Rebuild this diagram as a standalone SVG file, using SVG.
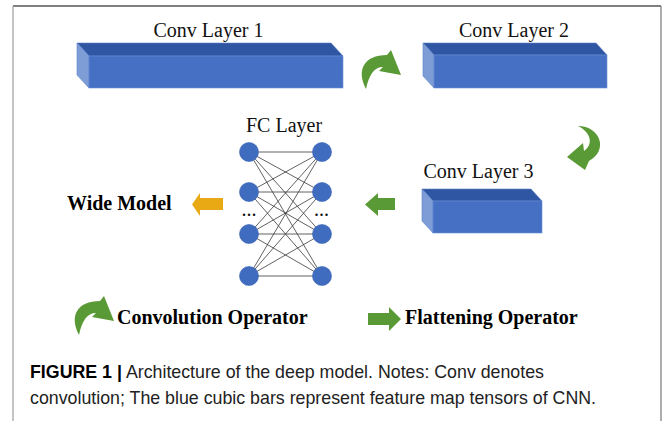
<svg xmlns="http://www.w3.org/2000/svg" width="663" height="421" viewBox="0 0 663 421">
<defs>
<style>
.lbl{font-family:"Liberation Serif","Times New Roman",serif;font-size:20px;fill:#111}
.bold{font-family:"Liberation Serif","Times New Roman",serif;font-size:20px;font-weight:bold;fill:#000}
.cap{font-family:"Liberation Sans",Arial,sans-serif;font-size:17.8px;fill:#222}
.top{fill:#2f56a3;stroke:#5a80c8;stroke-width:0.6}
.side{fill:#7e9dd7;stroke:#5a80c8;stroke-width:0.6}
.front{fill:#4670c4;stroke:#6a8fd4;stroke-width:0.6}
.node{fill:#3f6cbf;stroke:#355fae;stroke-width:0.6}
.edge{stroke:#3a3a3a;stroke-width:0.8}
.green{fill:#5a9a36}
.yellow{fill:#e8a915}
</style>
<path id="curl" d="M 366,89 C 356,70 364,55 387,55 L 391,50 L 401,75 L 379,71 L 383,67 C 374,67 369,75 366,89 Z"/>
</defs>
<rect x="0" y="0" width="663" height="421" fill="#fff"/>
<g id="frame" fill="none">
<line x1="13" y1="6" x2="661" y2="6" stroke="#555" stroke-width="1.5"/>
<line x1="13" y1="6" x2="13" y2="421" stroke="#b0b0b0" stroke-width="1.5"/>
<line x1="661" y1="6" x2="661" y2="421" stroke="#777" stroke-width="1.2"/>
</g>
<g id="conv1">
<text class="lbl" x="208.5" y="37" text-anchor="middle">Conv Layer 1</text>
<polygon class="top" points="77,43 331,43 343,56 89,56"/>
<polygon class="side" points="77,43 89,56 89,88 77,75"/>
<rect class="front" x="89" y="56" width="254" height="32"/>
</g>
<g id="conv2">
<text class="lbl" x="514" y="37" text-anchor="middle">Conv Layer 2</text>
<polygon class="top" points="423,43 596,43 607,55 434,55"/>
<polygon class="side" points="423,43 434,55 434,88 423,76"/>
<rect class="front" x="434" y="55" width="173" height="33"/>
</g>
<g id="conv3">
<text class="lbl" x="478.5" y="178" text-anchor="middle">Conv Layer 3</text>
<polygon class="top" points="422,189 531,189 542,201 433,201"/>
<polygon class="side" points="422,189 433,201 433,233 422,221"/>
<rect class="front" x="433" y="201" width="109" height="32"/>
</g>
<g id="fc">
<text class="lbl" x="284" y="132" text-anchor="middle">FC Layer</text>
<g class="edge">
<line x1="249" y1="152" x2="322" y2="152"/><line x1="249" y1="152" x2="322" y2="192"/><line x1="249" y1="152" x2="322" y2="234"/><line x1="249" y1="152" x2="322" y2="276"/>
<line x1="249" y1="192" x2="322" y2="152"/><line x1="249" y1="192" x2="322" y2="192"/><line x1="249" y1="192" x2="322" y2="234"/><line x1="249" y1="192" x2="322" y2="276"/>
<line x1="249" y1="234" x2="322" y2="152"/><line x1="249" y1="234" x2="322" y2="192"/><line x1="249" y1="234" x2="322" y2="234"/><line x1="249" y1="234" x2="322" y2="276"/>
<line x1="249" y1="276" x2="322" y2="152"/><line x1="249" y1="276" x2="322" y2="192"/><line x1="249" y1="276" x2="322" y2="234"/><line x1="249" y1="276" x2="322" y2="276"/>
</g>
<circle class="node" cx="249" cy="152" r="9.5"/><circle class="node" cx="249" cy="192" r="9.5"/><circle class="node" cx="249" cy="234" r="9.5"/><circle class="node" cx="249" cy="276" r="9.5"/>
<circle class="node" cx="322" cy="152" r="9.5"/><circle class="node" cx="322" cy="192" r="9.5"/><circle class="node" cx="322" cy="234" r="9.5"/><circle class="node" cx="322" cy="276" r="9.5"/>
<rect x="240" y="205" width="18" height="14" fill="#fff"/><rect x="313" y="205" width="18" height="14" fill="#fff"/>
<text class="lbl" x="249" y="216" text-anchor="middle">...</text>
<text class="lbl" x="321.5" y="216" text-anchor="middle">...</text>
</g>
<g id="wide-model">
<text class="bold" x="67" y="210">Wide Model</text>
</g>
<g id="connectors">
<use href="#curl" class="green"/>
<path class="green" d="M 578,126 C 600,126 609,150 589,161 L 585,170 L 567,157 L 583,143 L 584,151 C 593,145 592,133 578,126 Z"/>
<polygon class="green" points="395,198 378,198 378,193 365,204.5 378,216 378,210 395,210"/>
<polygon class="yellow" points="223,198 200,198 200,193 192,204.5 200,216 200,210 223,210"/>
</g>
<g id="legend">
<use href="#curl" class="green" transform="translate(-287,246)"/>
<text class="bold" x="117" y="324">Convolution Operator</text>
<polygon class="green" points="368,313 389,313 389,307 401,319 389,331 389,325 368,325"/>
<text class="bold" x="405" y="324">Flattening Operator</text>
</g>
<g id="caption">
<text class="cap" x="30" y="378"><tspan font-weight="bold" fill="#000">FIGURE 1 |</tspan> Architecture of the deep model. Notes: Conv denotes</text>
<text class="cap" x="30" y="404">convolution; The blue cubic bars represent feature map tensors of CNN.</text>
</g>
</svg>
